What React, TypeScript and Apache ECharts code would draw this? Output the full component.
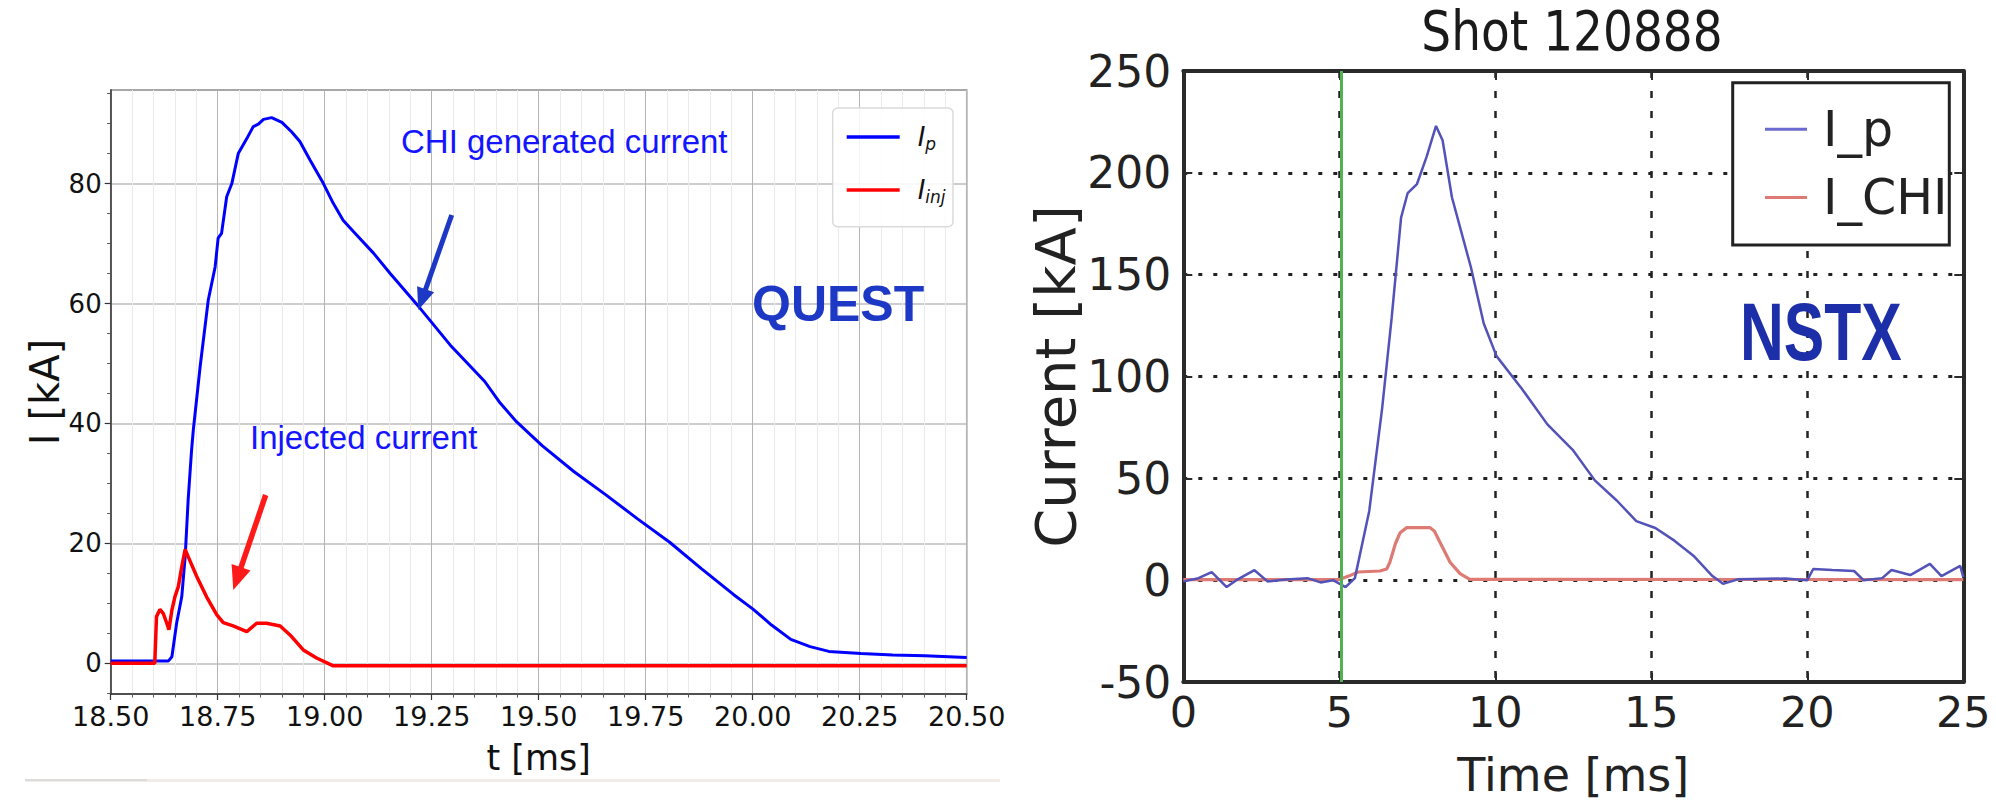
import React, { useEffect, useRef } from "react";
import * as echarts from "echarts";

// ---------- QUEST (left) ----------
const questYMajor = [0, 20, 40, 60, 80];
const questYMinor = [-5, 5, 10, 15, 25, 30, 35, 45, 50, 55, 65, 70, 75, 85, 90, 95];

const questIp: [number, number][] = [
  [18.5, 0.42], [18.635, 0.42], [18.643, 1.1], [18.654, 6.7], [18.666, 11.1], [18.674, 17.8],
  [18.681, 27.3], [18.689, 35.6], [18.693, 38.9], [18.709, 49.5], [18.728, 60.6], [18.744, 66.1],
  [18.751, 70.9], [18.759, 71.7], [18.771, 77.8], [18.783, 80], [18.798, 85], [18.818, 87.5],
  [18.833, 89.5], [18.845, 89.9], [18.857, 90.7], [18.876, 91.0], [18.9, 90.2], [18.923, 88.6],
  [18.942, 87], [18.966, 83.9], [18.997, 80], [19.02, 76.7], [19.043, 73.9], [19.067, 72],
  [19.114, 68.4], [19.153, 65], [19.223, 59.2], [19.293, 53.1], [19.374, 47.0], [19.41, 43.4],
  [19.448, 40.3], [19.508, 36.3], [19.582, 32.0], [19.657, 28.1], [19.731, 24.1], [19.806, 20.2],
  [19.88, 15.8], [19.955, 11.5], [20.0, 9.1], [20.044, 6.4], [20.089, 4.0], [20.134, 2.8],
  [20.178, 2.0], [20.253, 1.65], [20.327, 1.4], [20.402, 1.26], [20.5, 1.0],
];

const questIinj: [number, number][] = [
  [18.5, 0.03], [18.603, 0.03], [18.607, 7.8], [18.615, 9.0], [18.623, 8.3], [18.631, 6.7],
  [18.636, 5.6], [18.643, 8.9], [18.65, 11.1], [18.658, 12.8], [18.666, 16.1], [18.674, 19.0],
  [18.681, 17.8], [18.701, 14.5], [18.724, 11.1], [18.748, 8.1], [18.763, 6.8], [18.786, 6.25],
  [18.818, 5.3], [18.841, 6.7], [18.864, 6.7], [18.896, 6.25], [18.919, 4.75], [18.95, 2.25],
  [18.981, 0.9], [19.02, -0.4], [20.5, -0.4],
];

// ---------- NSTX (right) ----------
const nstxIp: [number, number][] = [
  [0, -0.6], [0.45, 0.8], [0.91, 3.9], [1.39, -3.4], [1.7, 0], [2.28, 4.9], [2.7, -0.6], [3.3, 0.3],
  [3.98, 1], [4.4, -1.1], [4.8, 0], [5.2, -3.4], [5.5, 1], [5.96, 34], [6.37, 84], [6.68, 129],
  [6.98, 178], [7.19, 190], [7.49, 194.5], [7.8, 208], [8.1, 223], [8.31, 216], [8.61, 188],
  [9.22, 153.5], [9.63, 126], [10.04, 110], [10.85, 94], [11.67, 76.5], [12.48, 64], [13.19, 49],
  [13.9, 39], [14.52, 29], [15.13, 25.6], [15.74, 19.4], [16.35, 12], [16.96, 2], [17.3, -1.8],
  [17.8, 0.5], [19.3, 0.8], [20.0, 0], [20.19, 5.5], [20.8, 5], [21.5, 4.5], [21.8, 0], [22.4, 1],
  [22.7, 5], [23.3, 2.5], [23.93, 8], [24.3, 2], [24.9, 7], [25, 1.5],
];

const nstxIchi: [number, number][] = [
  [0, 0.3], [5.0, 0.3], [5.3, 2], [5.6, 4], [6.3, 4.5], [6.52, 5.5], [6.62, 8.8], [6.8, 18],
  [6.95, 23.3], [7.16, 25.8], [7.91, 25.8], [8.05, 24], [8.23, 18.5], [8.55, 8.8], [8.87, 3.2],
  [9.18, 0.4], [25, 0.3],
];

const nstxMarkerTime = 5.07;

const DEJAVU = "'DejaVu Sans', sans-serif";
const ARIAL = "'Liberation Sans', Arial, sans-serif";

function arrow(x1: number, y1: number, x2: number, y2: number, color: string, w: number, headLen: number, headW: number) {
  const dx = x2 - x1, dy = y2 - y1;
  const L = Math.hypot(dx, dy);
  const ux = dx / L, uy = dy / L;
  const px = -uy, py = ux;
  const bx = x2 - ux * headLen, by = y2 - uy * headLen;
  return [
    { type: "line", z: 10, shape: { x1, y1, x2: bx + ux * 3, y2: by + uy * 3 }, style: { stroke: color, lineWidth: w } },
    {
      type: "polygon", z: 10,
      shape: { points: [[x2, y2], [bx + px * headW, by + py * headW], [bx - px * headW, by - py * headW]] },
      style: { fill: color },
    },
  ];
}

export default function App() {
  const ref = useRef<HTMLDivElement>(null);
  useEffect(() => {
    if (!ref.current) return;
    const chart = echarts.init(ref.current, undefined, { renderer: "svg" });
    const spineR = { show: true, onZero: false, lineStyle: { color: "#2a2a2a", width: 4 } };
    const tickR = { show: true, inside: true, length: 9, lineStyle: { color: "#2a2a2a", width: 2 } };
    const option: any = {
      animation: false,
      backgroundColor: "#ffffff",
      grid: [
        { left: 110.7, top: 90, width: 856, height: 604, show: true, borderColor: "#8a8a8a", borderWidth: 1.5, backgroundColor: "transparent" },
        { left: 1183.3, top: 71, width: 780, height: 615, show: false },
      ],
      xAxis: [
        {
          gridIndex: 0, type: "value", min: 18.5, max: 20.5, interval: 0.25,
          axisLine: { show: true, onZero: false, lineStyle: { color: "#333", width: 1.5 } },
          axisTick: { show: true, length: 6, lineStyle: { color: "#333", width: 1.2 } },
          minorTick: { show: true, splitNumber: 5, length: 3.5, lineStyle: { color: "#555", width: 1 } },
          minorSplitLine: { show: true, lineStyle: { color: "#ebebeb", width: 1 } },
          splitLine: { show: true, lineStyle: { color: "#b4b4b4", width: 1 } },
          axisLabel: { formatter: (v: number) => v.toFixed(2), fontFamily: DEJAVU, fontSize: 27, color: "#111", margin: 9 },
          name: "t [ms]", nameLocation: "middle", nameGap: 46,
          nameTextStyle: { fontFamily: DEJAVU, fontSize: 35, color: "#111" },
        },
        {
          gridIndex: 1, type: "value", min: 0, max: 25, interval: 5, position: "bottom",
          axisLine: spineR, axisTick: tickR,
          splitLine: { show: true, lineStyle: { color: "#222", width: 2.5, type: [7, 13] } },
          axisLabel: { fontFamily: DEJAVU, fontSize: 43, color: "#222", margin: 8 },
          name: "Time [ms]", nameLocation: "middle", nameGap: 70,
          nameTextStyle: { fontFamily: DEJAVU, fontSize: 46, color: "#222" },
        },
        {
          gridIndex: 1, type: "value", min: 0, max: 25, interval: 5, position: "top",
          axisLine: spineR, axisTick: tickR,
          splitLine: { show: false }, axisLabel: { show: false },
        },
      ],
      yAxis: [
        {
          gridIndex: 0, type: "value", min: -5.1, max: 95.6,
          axisLine: { show: true, onZero: false, lineStyle: { color: "#333", width: 1.5 } },
          axisTick: { show: true, customValues: questYMajor, length: 6, lineStyle: { color: "#333", width: 1.2 } },
          axisLabel: { customValues: questYMajor, fontFamily: DEJAVU, fontSize: 26, color: "#111", margin: 9 },
          splitLine: { show: true, lineStyle: { color: "#cdcdcd", width: 2 } },
          name: "I [kA]", nameLocation: "middle", nameGap: 46,
          nameTextStyle: { fontFamily: DEJAVU, fontSize: 40, color: "#111" },
        },
        {
          gridIndex: 0, type: "value", min: -5.1, max: 95.6, position: "right", offset: -856,
          axisLine: { show: false, onZero: false },
          axisTick: { show: true, inside: true, customValues: questYMinor, length: 3.5, lineStyle: { color: "#555", width: 1 } },
          axisLabel: { show: false }, splitLine: { show: false },
        },
        {
          gridIndex: 1, type: "value", min: -50, max: 250, interval: 50, position: "left",
          axisLine: spineR, axisTick: tickR,
          splitLine: { show: true, lineStyle: { color: "#222", width: 3, type: [4, 11] } },
          axisLabel: { fontFamily: DEJAVU, fontSize: 44, color: "#222", margin: 12 },
          name: "Current [kA]", nameLocation: "middle", nameGap: 95,
          nameTextStyle: { fontFamily: DEJAVU, fontSize: 56, color: "#222" },
        },
        {
          gridIndex: 1, type: "value", min: -50, max: 250, interval: 50, position: "right",
          axisLine: spineR, axisTick: tickR,
          splitLine: { show: false }, axisLabel: { show: false },
        },
      ],
      legend: [
        {
          data: ["Ip", "Iinj"], orient: "vertical", left: 841.7, top: 119, itemWidth: 53, itemHeight: 3.5,
          itemGap: 25, icon: "rect", selectedMode: false, z: 12,
          formatter: (n: string) => (n === "Ip" ? "{g|}{i|I}{s|p}" : "{g|}{i|I}{s|inj}"),
          textStyle: {
            rich: {
              g: { width: 13 },
              i: { fontFamily: DEJAVU, fontStyle: "italic", fontSize: 26, lineHeight: 30, color: "#111" },
              s: { fontFamily: DEJAVU, fontStyle: "italic", fontSize: 17, lineHeight: 14, verticalAlign: "bottom", color: "#111" },
            },
          },
        },
        {
          data: ["I_p", "I_CHI"], orient: "vertical", left: 1760, top: 99.7, itemWidth: 42, itemHeight: 3,
          itemGap: 19.3, icon: "rect", selectedMode: false, z: 12,
          formatter: (n: string) => "{g|}{t|" + n + "}",
          textStyle: {
            rich: {
              g: { width: 11 },
              t: { fontFamily: DEJAVU, fontSize: 49, lineHeight: 54, color: "#222" },
            },
          },
        },
      ],
      series: [
        {
          name: "Ip", type: "line", xAxisIndex: 0, yAxisIndex: 0, data: questIp, symbol: "none", showSymbol: false,
          lineStyle: { color: "#0000ff", width: 3 }, itemStyle: { color: "#0000ff" }, z: 3,
        },
        {
          name: "Iinj", type: "line", xAxisIndex: 0, yAxisIndex: 0, data: questIinj, symbol: "none", showSymbol: false,
          lineStyle: { color: "#ff0000", width: 3.5 }, itemStyle: { color: "#ff0000" }, z: 4,
        },
        {
          name: "I_CHI", type: "line", xAxisIndex: 1, yAxisIndex: 2, data: nstxIchi, symbol: "none", showSymbol: false,
          lineStyle: { color: "#dd7a73", width: 3.2 }, itemStyle: { color: "#dd7a73" }, z: 2,
          markLine: {
            silent: true, symbol: "none", label: { show: false },
            lineStyle: { color: "#52b152", width: 3, type: "solid" },
            data: [{ xAxis: nstxMarkerTime }],
          },
        },
        {
          name: "I_p", type: "line", xAxisIndex: 1, yAxisIndex: 2, data: nstxIp, symbol: "none", showSymbol: false,
          lineStyle: { color: "#5252b8", width: 2.5 }, itemStyle: { color: "#6a6ad0" }, z: 3,
        },
      ],
      graphic: [
        // legend boxes
        { type: "rect", z: 11, shape: { x: 832.7, y: 108, width: 120.3, height: 118.7, r: 5 }, style: { fill: "rgba(255,255,255,0.85)", stroke: "#dadada", lineWidth: 1.5 } },
        { type: "rect", z: 11, shape: { x: 1732.7, y: 82.7, width: 216.6, height: 162.3 }, style: { fill: "#ffffff", stroke: "#222", lineWidth: 3 } },
        // annotations
        { type: "text", z: 10, x: 401, y: 141, style: { text: "CHI generated current", fontFamily: ARIAL, fontSize: 33, fill: "#1414ff", verticalAlign: "middle", align: "left" } },
        { type: "text", z: 10, x: 250, y: 437.5, style: { text: "Injected current", fontFamily: ARIAL, fontSize: 33, fill: "#1414ff", verticalAlign: "middle", align: "left" } },
        { type: "text", z: 10, x: 752, y: 304, style: { text: "QUEST", fontFamily: ARIAL, fontWeight: "bold", fontSize: 50, fill: "#1c38c4", verticalAlign: "middle", align: "left" } },
        { type: "text", z: 10, x: 1740, y: 331.5, scaleX: 0.74, style: { text: "NSTX", fontFamily: ARIAL, fontWeight: "bold", fontSize: 82, fill: "#1d2fa8", verticalAlign: "middle", align: "left" } },
        { type: "text", z: 10, x: 1572, y: 31, scaleX: 0.84, style: { text: "Shot 120888", fontFamily: DEJAVU, fontSize: 56, lineHeight: 46, fill: "#1a1a1a", verticalAlign: "middle", align: "center" } },
        ...arrow(451.7, 215, 418.3, 310, "#1c38c4", 5, 22, 9),
        ...arrow(265.7, 495, 233.3, 590, "#ff1a1a", 5.5, 24, 10),
        // faint bottom rule
        { type: "rect", z: 1, shape: { x: 25, y: 779, width: 975, height: 3 }, style: { fill: "#f2ece8" } },
        { type: "rect", z: 1, shape: { x: 25, y: 779, width: 122, height: 2 }, style: { fill: "#dcdcdc" } },
      ],
    };
    chart.setOption(option);
    return () => chart.dispose();
  }, []);
  return (
    <div
      ref={ref}
      style={{ position: "absolute", left: 0, top: 0, width: 1996, height: 803, background: "#fff" }}
    />
  );
}
